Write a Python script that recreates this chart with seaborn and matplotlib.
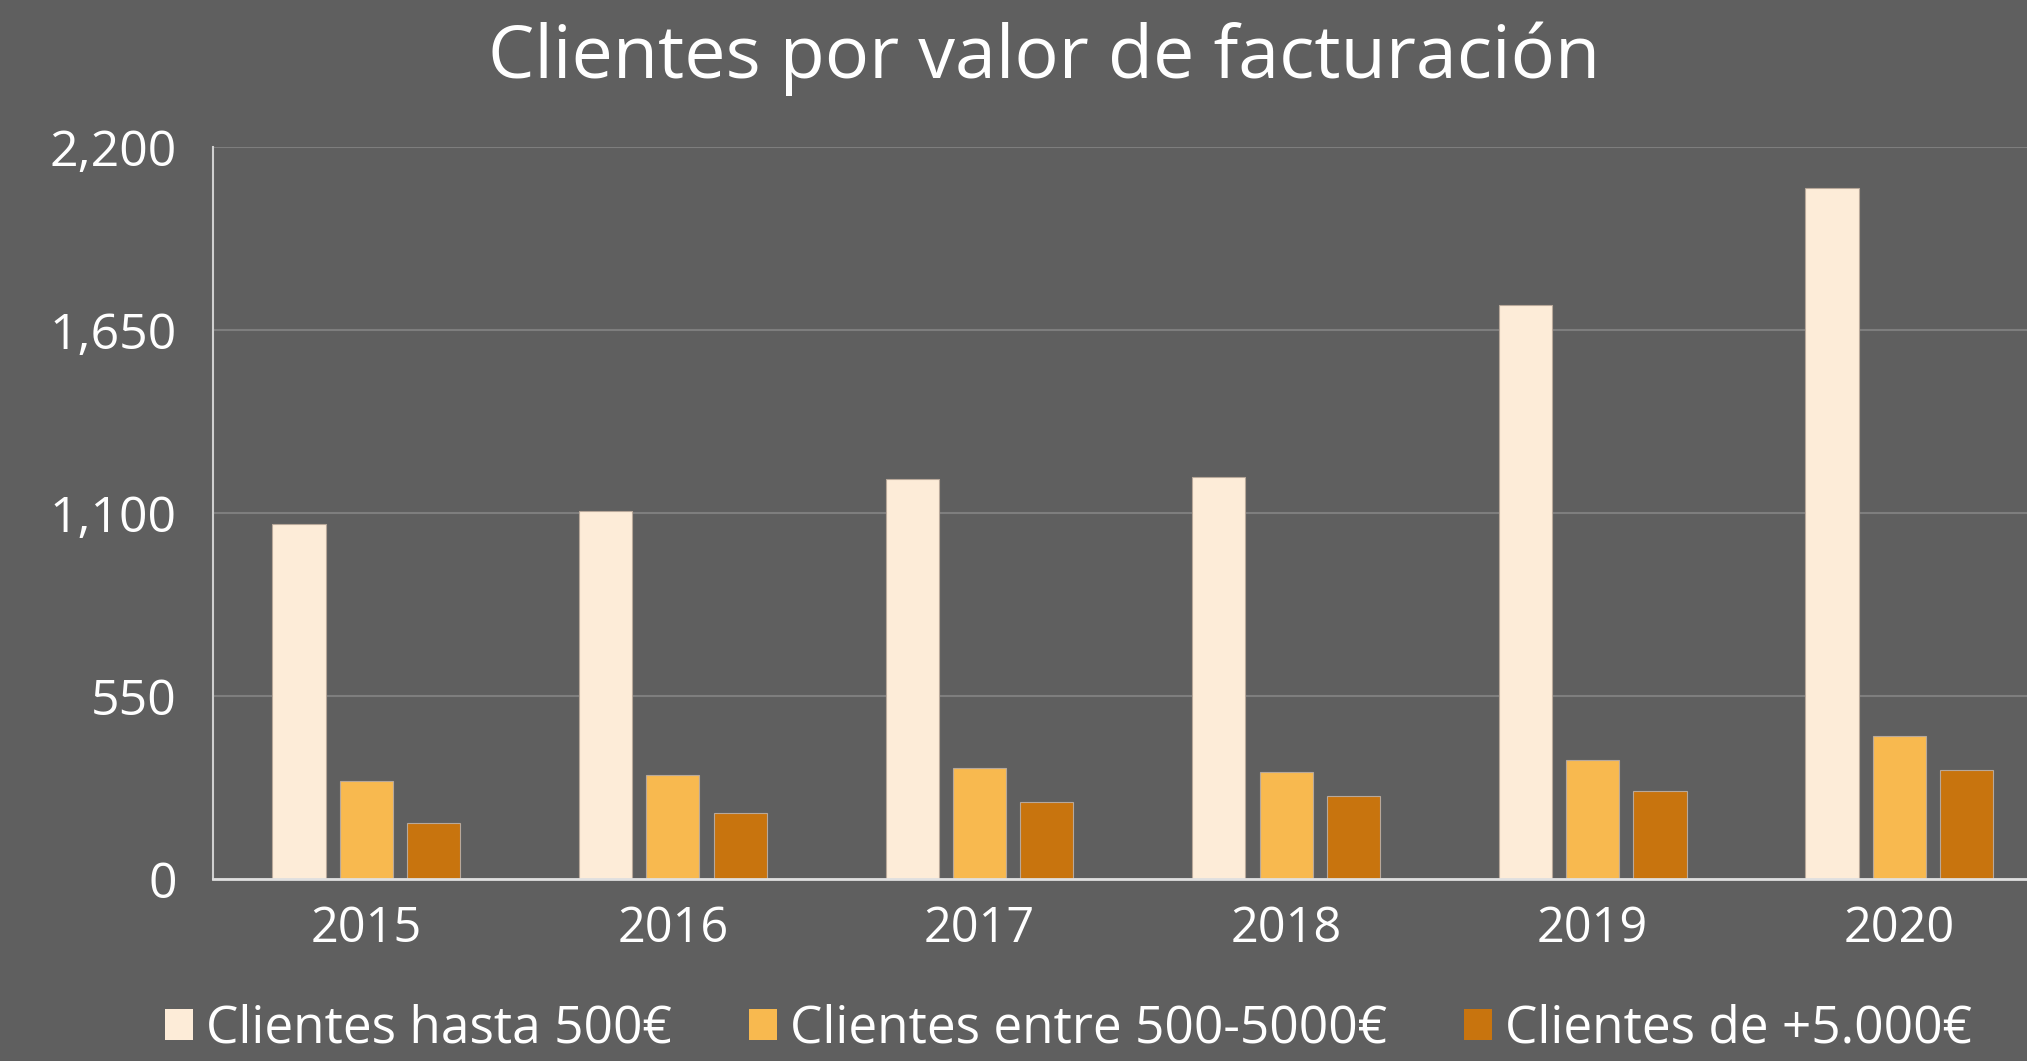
import matplotlib
matplotlib.use("Agg")
import matplotlib.pyplot as plt
import seaborn as sns
import pandas as pd
from matplotlib.ticker import FuncFormatter

years = ["2015", "2016", "2017", "2018", "2019", "2020"]
series_names = ["Clientes hasta 500€", "Clientes entre 500-5000€", "Clientes de +5.000€"]
hasta_500 = [1067, 1106, 1203, 1209, 1725, 2078]
entre_500_5000 = [296, 312, 333, 323, 357, 430]
mas_5000 = [167, 197, 232, 248, 263, 329]
yticks = [0, 550, 1100, 1650, 2200]
title = "Clientes por valor de facturación"

colors = ["#FDECD8", "#F8B94F", "#C8740E"]
bg = "#5F5F5F"
fg = "#FFFFFF"

rows = []
for name, vals in zip(series_names, [hasta_500, entre_500_5000, mas_5000]):
    for y, v in zip(years, vals):
        rows.append({"Año": y, "Clientes": v, "Serie": name})
df = pd.DataFrame(rows)

sns.set_theme(style="dark")
plt.rcParams["font.family"] = ["Open Sans", "DejaVu Sans"]

fig = plt.figure(figsize=(20.27, 10.61), dpi=100, facecolor=bg)
ax = fig.add_axes([213 / 2027, 1 - 879 / 1061, 6 * 306.6 / 2027, (879 - 147) / 1061])
ax.set_facecolor(bg)

sns.barplot(data=df, x="Año", y="Clientes", hue="Serie", hue_order=series_names,
            order=years, palette=colors, saturation=1, width=0.658, gap=0.21,
            edgecolor="#B8A89A", linewidth=0.8, ax=ax)

handles, labels = ax.get_legend_handles_labels()
if ax.get_legend() is not None:
    ax.get_legend().remove()

ax.set_xlim(-0.5, 5.5)
ax.set_ylim(0, 2200)
ax.set_yticks(yticks)
ax.yaxis.set_major_formatter(FuncFormatter(lambda v, p: f"{v:,.0f}"))
ax.grid(axis="y", color="#7E7E7E", linewidth=1.5)
ax.grid(axis="x", visible=False)
ax.set_axisbelow(True)
ax.set_xlabel("")
ax.set_ylabel("")

for s in ["top", "right"]:
    ax.spines[s].set_visible(False)
ax.spines["left"].set_color("#D0D0D0")
ax.spines["left"].set_linewidth(1.5)
ax.spines["bottom"].set_color("#E0E0E0")
ax.spines["bottom"].set_linewidth(2)

ax.tick_params(axis="y", length=0, pad=26, labelsize=36, labelcolor=fg)
ax.tick_params(axis="x", length=0, pad=18, labelsize=35, labelcolor=fg)

fig.text(0.515, 0.945, title, ha="center", va="center", color=fg, fontsize=53)

leg = fig.legend(handles, labels, loc="center", bbox_to_anchor=(0.527, 0.03), ncol=3,
                 frameon=False, fontsize=37, handlelength=0.55, handleheight=0.55,
                 handletextpad=0.25, columnspacing=1.5, labelcolor=fg,
                 borderpad=0.1)
for h in leg.legend_handles:
    h.set_edgecolor("none")

fig.savefig("out.png", dpi=100, facecolor=bg)
